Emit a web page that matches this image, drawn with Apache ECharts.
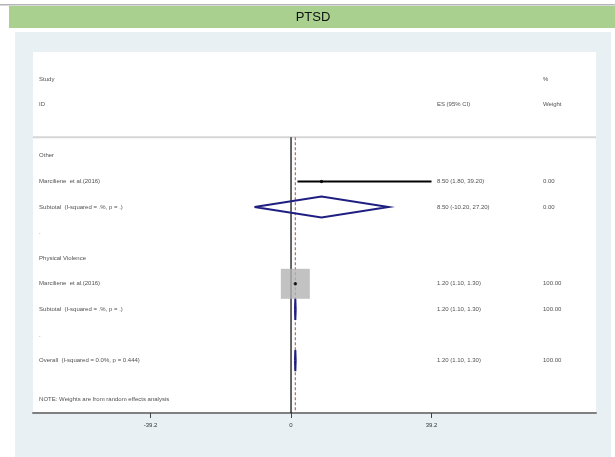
<!DOCTYPE html>
<html><head><meta charset="utf-8">
<script src="https://cdn.jsdelivr.net/npm/echarts@6/dist/echarts.min.js"></script>
<style>html,body{margin:0;padding:0;background:#fff}#c{width:615px;height:457px}</style>
</head><body><div id="c"></div>
<script>
// ---- data ----
const rowLabels = ['Other', 'Marciliene  et al.(2016)', 'Subtotal  (I-squared = .%, p = .)', '.',
  'Physical Violence', 'Marciliene  et al.(2016)', 'Subtotal  (I-squared = .%, p = .)', '.',
  'Overall  (I-squared = 0.0%, p = 0.444)'];
const rowIndex = [3, 4, 5, 6, 7, 8, 9, 10, 11];
const studyRows = [4, 8];
const studyES = [8.5, 1.2];
const studyLo = [1.8, 1.1];
const studyHi = [39.2, 1.3];
const studyWeight = [0.00, 100.00];
const poolRows = [5, 9, 11];
const poolES = [8.5, 1.2, 1.2];
const poolLo = [-10.2, 1.1, 1.1];
const poolHi = [27.2, 1.3, 1.3];
const poolWeight = [0.00, 100.00, 100.00];
const tickValues = [-39.2, 0, 39.2];
const nullValue = 0;
const overallES = 1.2;
const noteText = 'NOTE: Weights are from random effects analysis';

// ---- layout ----
const X_MIN = -72, X_MAX = 85.1;
const Y_MIN = -1.055, Y_MAX = 13.047;
const COL_STUDY = -70.3, COL_ES = 40.7, COL_W = 70.3;
const SEP_ROW = 2.28;
const DIA_H = 0.41;
const NAVY = '#1f1f82';

const fmt = v => v.toFixed(2);
const esText = (e, l, h) => fmt(e) + ' (' + fmt(l) + ', ' + fmt(h) + ')';

const textData = [];
textData.push([COL_STUDY, 0, 'Study'], [COL_STUDY, 1, 'ID'], [COL_ES, 1, 'ES (95% CI)'], [COL_W, 0, '%'], [COL_W, 1, 'Weight']);
rowLabels.forEach((t, i) => textData.push([COL_STUDY, rowIndex[i], t]));
studyRows.forEach((r, i) => {
  textData.push([COL_ES, r, esText(studyES[i], studyLo[i], studyHi[i])]);
  textData.push([COL_W, r, fmt(studyWeight[i])]);
});
poolRows.forEach((r, i) => {
  textData.push([COL_ES, r, esText(poolES[i], poolLo[i], poolHi[i])]);
  textData.push([COL_W, r, fmt(poolWeight[i])]);
});
textData.push([COL_STUDY, 12.5, noteText]);

const series = [];
// header separator
series.push({type: 'line', data: [[X_MIN, SEP_ROW], [X_MAX, SEP_ROW]], symbol: 'none', silent: true,
  lineStyle: {color: '#d6d6d6', width: 2}, z: 1});
// null line
series.push({type: 'line', data: [[nullValue, SEP_ROW], [nullValue, Y_MAX]], symbol: 'none', silent: true,
  lineStyle: {color: '#000', width: 1.2}, z: 2});
// overall dashed line
series.push({type: 'line', data: [[overallES, SEP_ROW], [overallES, Y_MAX]], symbol: 'none', silent: true,
  lineStyle: {color: '#c06464', width: 1.2, type: [3, 2]}, z: 2});
// squares
series.push({type: 'scatter', symbol: 'rect', silent: true, z: 3,
  data: studyRows.map((r, i) => ({value: [studyES[i], r],
    symbolSize: studyWeight[i] > 0 ? [29 * Math.sqrt(studyWeight[i] / 100), 30 * Math.sqrt(studyWeight[i] / 100)] : 0})),
  itemStyle: {color: '#b3b3b3'}});
// CI lines
studyRows.forEach((r, i) => {
  series.push({type: 'line', data: [[studyLo[i], r], [studyHi[i], r]], symbol: 'none', silent: true,
    lineStyle: {color: '#000', width: 2}, z: 4});
});
// point estimates
series.push({type: 'scatter', symbol: 'circle', symbolSize: 3.5, silent: true, z: 5,
  data: studyRows.map((r, i) => [studyES[i], r]), itemStyle: {color: '#000'}});
// diamonds
poolRows.forEach((r, i) => {
  series.push({type: 'line', symbol: 'none', silent: true, z: 4,
    data: [[poolLo[i], r], [poolES[i], r - DIA_H], [poolHi[i], r], [poolES[i], r + DIA_H], [poolLo[i], r]],
    lineStyle: {color: NAVY, width: 2, join: 'miter'}});
});
// text
series.push({type: 'scatter', symbolSize: 0, silent: true, z: 6, data: textData,
  label: {show: true, position: 'right', distance: 0, formatter: p => p.data[2],
    fontFamily: 'Liberation Sans', fontSize: 6, color: '#222'}});

const chart = echarts.init(document.getElementById('c'), null, {renderer: 'canvas'});
chart.setOption({
  animation: false,
  backgroundColor: '#fff',
  graphic: [
    {type: 'rect', shape: {x: 0, y: 4, width: 615, height: 1.5}, style: {fill: '#b4b4b4'}, z: -10, silent: true},
    {type: 'rect', shape: {x: 9, y: 6, width: 606, height: 22}, style: {fill: '#a9d08e'}, z: -10, silent: true},
    {type: 'text', x: 313, y: 17, style: {text: 'PTSD', fill: '#111', font: '13px "Liberation Sans"', align: 'center', verticalAlign: 'middle'}, z: -9, silent: true},
    {type: 'rect', shape: {x: 15, y: 32, width: 596, height: 425}, style: {fill: '#e8f0f3'}, z: -10, silent: true},
    {type: 'rect', shape: {x: 33, y: 52, width: 563, height: 361}, style: {fill: '#ffffff'}, z: -9, silent: true}
  ],
  grid: {left: 33, right: 19, top: 52, bottom: 44, containLabel: false},
  xAxis: {type: 'value', min: X_MIN, max: X_MAX, position: 'bottom',
    axisLine: {show: true, onZero: false, lineStyle: {color: '#808080', width: 2}},
    axisTick: {show: true, customValues: tickValues, length: 5, lineStyle: {color: '#444', width: 1}},
    axisLabel: {customValues: tickValues, fontSize: 6, color: '#333', margin: 9, fontFamily: 'Liberation Sans', formatter: v => String(v)},
    splitLine: {show: false}},
  yAxis: {type: 'value', inverse: true, min: Y_MIN, max: Y_MAX, show: false, splitLine: {show: false}},
  series: series
});
</script>
</body></html>
